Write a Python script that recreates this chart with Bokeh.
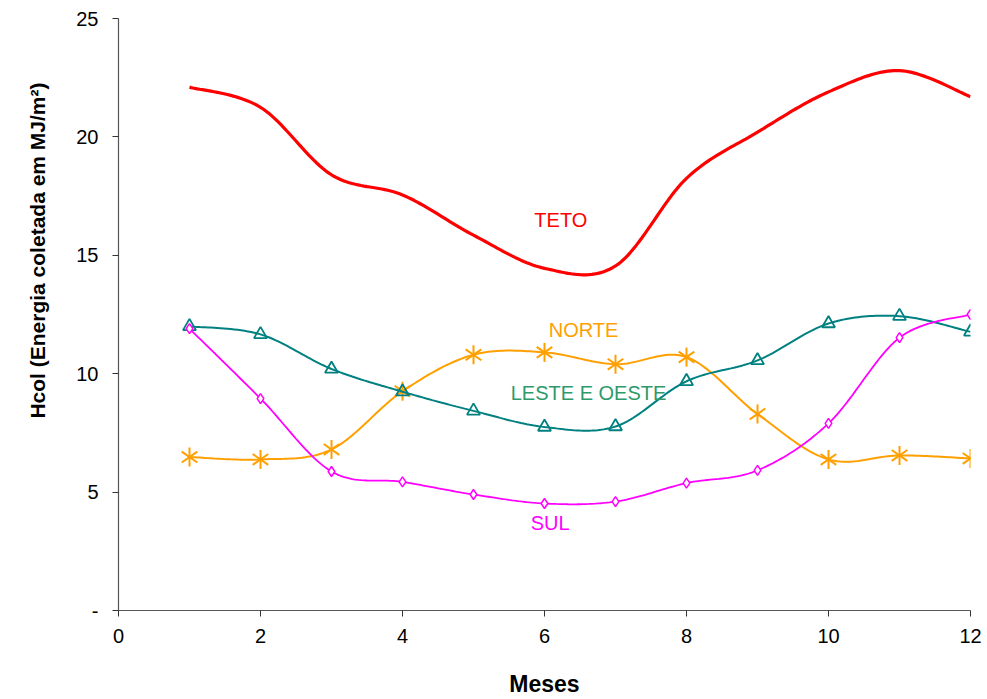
import numpy as np
from bokeh.plotting import figure
from bokeh.models import Range1d, FixedTicker, Title
from bokeh.core.properties import value
from bokeh.embed import file_html
from bokeh.resources import INLINE

months = [1, 2, 3, 4, 5, 6, 7, 8, 9, 10, 11, 12]
teto = [22.1, 21.25, 18.4, 17.55, 15.85, 14.45, 14.55, 18.25, 20.2, 21.9, 22.8, 21.7]
norte = [6.48, 6.38, 6.8, 9.26, 10.8, 10.9, 10.4, 10.7, 8.3, 6.38, 6.55, 6.42]
leste_oeste = [12.0, 11.66, 10.2, 9.24, 8.43, 7.75, 7.77, 9.68, 10.56, 12.12, 12.43, 11.77]
sul = [11.9, 8.95, 5.87, 5.43, 4.9, 4.52, 4.6, 5.38, 5.92, 7.9, 11.52, 12.5]

y_ticks = [0, 5, 10, 15, 20, 25]
x_ticks = [0, 2, 4, 6, 8, 10, 12]

FONT = "Liberation Sans"


def smooth(xs, ys, steps=24):
    """Catmull-Rom style cubic Bezier through every point (spreadsheet smoothing)."""
    x = np.asarray(xs, float)
    y = np.asarray(ys, float)
    n = len(x)
    ox, oy = [], []
    for i in range(n - 1):
        p0 = np.array([x[max(i - 1, 0)], y[max(i - 1, 0)]])
        p1 = np.array([x[i], y[i]])
        p2 = np.array([x[i + 1], y[i + 1]])
        p3 = np.array([x[min(i + 2, n - 1)], y[min(i + 2, n - 1)]])
        c1 = p1 + (p2 - p0) / 6.0
        c2 = p2 - (p3 - p1) / 6.0
        t = np.linspace(0, 1, steps, endpoint=(i == n - 2))[:, None]
        pts = ((1 - t) ** 3) * p1 + 3 * ((1 - t) ** 2) * t * c1 + 3 * (1 - t) * t ** 2 * c2 + t ** 3 * p2
        ox.extend(pts[:, 0])
        oy.extend(pts[:, 1])
    return ox, oy


p = figure(width=987, height=699, output_backend="svg", toolbar_location=None,
           x_range=Range1d(0, 12), y_range=Range1d(0, 25),
           min_border_left=118, min_border_right=17, min_border_top=18, min_border_bottom=87)
p.outline_line_color = None
p.grid.grid_line_color = None
p.background_fill_color = "white"
p.border_fill_color = "white"

RED = "#FF0000"
ORANGE = "#FF9F00"
TEAL = "#008080"
MAGENTA = "#FF00FF"

sx, sy = smooth(months, teto)
p.line(sx, sy, line_color=RED, line_width=3.2)

sx, sy = smooth(months, norte)
p.line(sx, sy, line_color=ORANGE, line_width=2)
# six-ray asterisk: one vertical stroke and two diagonals
for ang in (90, 35, -35):
    p.scatter(months, norte, marker="dash", size=19, angle=ang, angle_units="deg",
              line_color=ORANGE, line_width=2)

sx, sy = smooth(months, leste_oeste)
p.line(sx, sy, line_color=TEAL, line_width=2)
p.scatter(months, leste_oeste, marker="triangle", size=13, line_color=TEAL,
          fill_color=None, line_width=1.8)

sx, sy = smooth(months, sul)
p.line(sx, sy, line_color=MAGENTA, line_width=1.8)
p.scatter(months, sul, marker="diamond", size=10, line_color=MAGENTA,
          fill_color="white", line_width=1.5)

labels = [
    ("TETO", 6.23, 16.5, RED),
    ("NORTE", 6.55, 11.85, ORANGE),
    ("LESTE E OESTE", 6.62, 9.2, "#2E9A6A"),
    ("SUL", 6.08, 3.7, MAGENTA),
]
for txt, lx, ly, col in labels:
    p.text([lx], [ly], text=[txt], text_color=col, text_font=value(FONT),
           text_font_size="20px", text_align="center", text_baseline="middle")

for ax in (p.xaxis, p.yaxis):
    ax.axis_line_color = "#555555"
    ax.axis_line_width = 1.2
    ax.major_tick_line_color = "#333333"
    ax.major_tick_out = 6
    ax.major_tick_in = 0
    ax.minor_tick_line_color = None
    ax.major_label_text_font = FONT
    ax.major_label_text_font_size = "20px"
    ax.major_label_text_color = "black"
    ax.axis_label_text_font = FONT
    ax.axis_label_text_font_style = "bold"
    ax.axis_label_text_font_size = "23px"
    ax.axis_label_text_color = "black"

p.xaxis.ticker = FixedTicker(ticks=x_ticks)
p.yaxis.ticker = FixedTicker(ticks=y_ticks)
p.yaxis.major_label_overrides = {0: "-"}
p.xaxis.major_label_standoff = 12
p.yaxis.major_label_standoff = 14
p.xaxis.axis_label = "Meses"
p.xaxis.axis_label_standoff = 25

# vertical title in the left margin, anchored toward the top of the frame
p.add_layout(Title(text="Hcol (Energia coletada em MJ/m²)", align="right", offset=64,
                   vertical_align="middle", text_font=FONT, text_font_style="bold",
                   text_font_size="21px", text_color="black", standoff=48), "left")

open("out.html", "w").write(file_html(p, INLINE))
